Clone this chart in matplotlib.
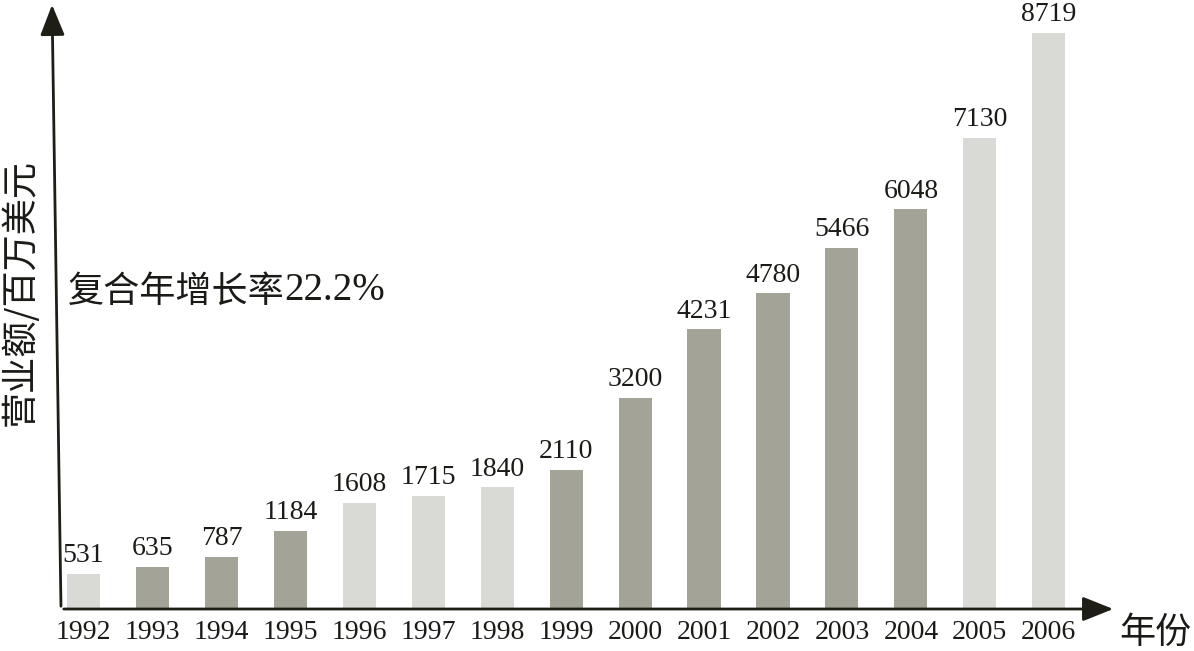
import matplotlib
matplotlib.use("Agg")
import matplotlib.pyplot as plt
from matplotlib.patches import FancyArrowPatch
from matplotlib.transforms import offset_copy

years = ["1992", "1993", "1994", "1995", "1996", "1997", "1998", "1999",
         "2000", "2001", "2002", "2003", "2004", "2005", "2006"]
revenue = [531, 635, 787, 1184, 1608, 1715, 1840, 2110,
           3200, 4231, 4780, 5466, 6048, 7130, 8719]
shade = ["light", "dark", "dark", "dark", "light", "light", "light", "dark",
         "dark", "dark", "dark", "dark", "dark", "light", "light"]
palette = {"light": "#d9d9d5", "dark": "#a3a398"}

W, H = 1194, 651
fig = plt.figure(figsize=(W / 100, H / 100), dpi=100)

# axes placed in pixel coords
left_px, right_px, bottom_px, top_px = 61, 1115, 609, 0
ax = fig.add_axes([left_px / W, (H - bottom_px) / H,
                   (right_px - left_px) / W, (bottom_px - top_px) / H])
ax.axis("off")

x = list(range(len(years)))
ax.bar(x, revenue, width=0.48, color=[palette[s] for s in shade], zorder=2)
ax.set_xlim(-0.326, 14.96)
ax.set_ylim(0, 9218)

serif = ["Liberation Serif", "DejaVu Serif"]
cjk = ["Noto Sans CJK SC", "DejaVu Sans"]
txt_color = "#1a1a16"
for xi, v in zip(x, revenue):
    ax.annotate(str(v), (xi, v), xytext=(0, 4), textcoords="offset points",
                ha="center", va="bottom", fontsize=20, family=serif,
                color=txt_color)
for xi, y in zip(x, years):
    ax.annotate(y, (xi, 0), xytext=(0, -8), textcoords="offset points",
                ha="center", va="top", fontsize=20, family=serif,
                color=txt_color, annotation_clip=False)

# axis arrows (slightly slanted y axis as in the reference)
def px(xp, yp):
    return (xp / W, 1 - yp / H)

axis_color = "#1e1e16"
for start, end in [((61, 609), (52, 2)), ((61, 609), (1116, 609))]:
    arr = FancyArrowPatch(px(*start), px(*end), transform=fig.transFigure,
                          arrowstyle="-|>,head_length=0.75,head_width=0.3",
                          mutation_scale=25, lw=2, color=axis_color)
    fig.add_artist(arr)

fig.text(20 / W, 1 - 293 / H, "营业额/百万美元", rotation=90, ha="center",
         va="center", fontsize=26, family=cjk, color=txt_color)
fig.text(1155 / W, 1 - 633 / H, "年份", ha="center", va="center",
         fontsize=26, family=cjk, color=txt_color)

t1 = fig.text(68 / W, 1 - 292 / H, "复合年增长率", ha="left", va="center",
              fontsize=26, family=cjk, color=txt_color)
renderer = fig.canvas.get_renderer()
bb = t1.get_window_extent(renderer=renderer)
fig.text(bb.x1 / W, 1 - 291 / H, "22.2%", ha="left", va="center",
         fontsize=28, family=serif, color=txt_color)

fig.savefig("out.png", dpi=100)
